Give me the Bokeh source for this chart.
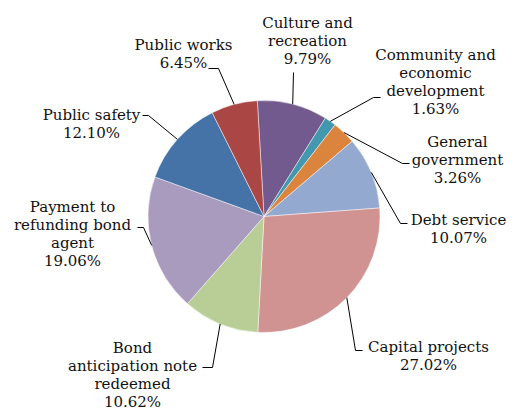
import math
from bokeh.plotting import figure
from bokeh.models import Range1d, ColumnDataSource
from bokeh.core.properties import value
from bokeh.embed import file_html
from bokeh.resources import INLINE

# ---- data ----
categories = [
    "Culture and recreation",
    "Community and economic development",
    "General government",
    "Debt service",
    "Capital projects",
    "Bond anticipation note redeemed",
    "Payment to refunding bond agent",
    "Public safety",
    "Public works",
]
label_lines = [
    ["Culture and", "recreation"],
    ["Community and", "economic", "development"],
    ["General", "government"],
    ["Debt service"],
    ["Capital projects"],
    ["Bond", "anticipation note", "redeemed"],
    ["Payment to", "refunding bond", "agent"],
    ["Public safety"],
    ["Public works"],
]
shares = [9.79, 1.63, 3.26, 10.07, 27.02, 10.62, 19.06, 12.10, 6.45]
colors = ["#725A8E", "#4198AF", "#DB843D", "#93A9CF", "#D19392",
          "#B9CD96", "#A99BBD", "#4572A7", "#AA4643"]

# ---- layout (image pixel coords, y down) ----
IMG_W, IMG_H = 517, 411
cx, cy, R = 263.5, 216.0, 116.0
rot = 3.3  # degrees counter-clockwise offset of first slice
label_pos = [(307, 40), (435, 81), (457, 159), (458, 228), (428, 355),
             (132, 374), (72, 233), (91, 123), (183, 53)]
elbows = [(293, 72), (373, 97), (402, 163), (400, 223), (355, 350),
          (212, 367), (143, 227), (148, 115), (218, 68)]
ends = [(293, 72), (380, 97), (409, 163), (407, 223), (362, 350),
        (202, 367), (137, 227), (142, 115), (208, 68)]

def fy(y):
    return IMG_H - y

total = sum(shares)
starts, stops, mids = [], [], []
acc = 0.0
for s in shares:
    t0 = acc / total * 360 - rot
    acc += s
    t1 = acc / total * 360 - rot
    starts.append(math.radians(90 - t0))
    stops.append(math.radians(90 - t1))
    mids.append((t0 + t1) / 2)

src = ColumnDataSource(dict(start=starts, end=stops, color=colors, cat=categories))

p = figure(width=IMG_W, height=IMG_H, x_range=Range1d(0, IMG_W), y_range=Range1d(0, IMG_H),
           output_backend="svg", toolbar_location=None, min_border=0,
           x_axis_location=None, y_axis_location=None)
p.grid.visible = False
p.outline_line_color = None
p.background_fill_color = "white"
p.border_fill_color = "white"

p.wedge(x=cx, y=fy(cy), radius=R, start_angle="start", end_angle="end",
        direction="clock", fill_color="color", line_color="white",
        line_alpha=0.6, line_width=0.8, source=src)

# leader lines
xs, ys = [], []
for m, e, n in zip(mids, elbows, ends):
    ex = cx + R * math.sin(math.radians(m))
    ey = cy - R * math.cos(math.radians(m))
    xs.append([ex, e[0], n[0]])
    ys.append([fy(ey), fy(e[1]), fy(n[1])])
p.multi_line(xs=xs, ys=ys, line_color="black", line_width=1)

texts = ["\n".join(l + [f"{s:.2f}%"]) for l, s in zip(label_lines, shares)]
p.text(x=[q[0] for q in label_pos], y=[fy(q[1]) for q in label_pos], text=texts,
       text_align="center", text_baseline="middle",
       text_font=value("DejaVu Serif"), text_font_size="15px",
       text_color="#111111", text_line_height=1.0)

open("out.html", "w").write(file_html(p, INLINE))
